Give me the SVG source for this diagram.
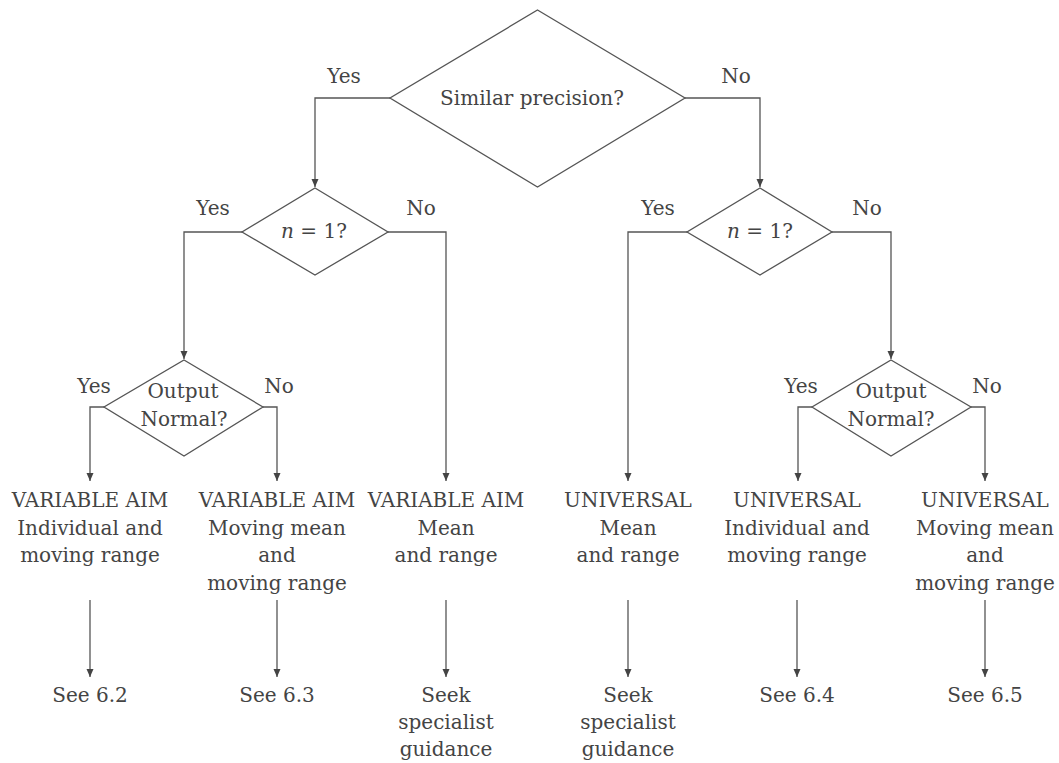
<svg xmlns="http://www.w3.org/2000/svg" width="1059" height="763" viewBox="0 0 1059 763">
<style>
.d{fill:#fff;stroke:#555;stroke-width:1.3}
.c{fill:none;stroke:#555;stroke-width:1.3}
text{font-family:"DejaVu Serif","Liberation Serif",serif;font-size:20px;fill:#444;text-anchor:middle}
</style>
<defs>
<marker id="ah" markerWidth="8" markerHeight="12" refX="8" refY="6" orient="auto" markerUnits="userSpaceOnUse">
<path d="M0,2.5 L8,6 L0,9.5 Z" fill="#444"/>
</marker>
</defs>
<rect width="1059" height="763" fill="#fff"/>
<g id="connectors">
<path class="c" d="M390,98 H315 V187" marker-end="url(#ah)"/>
<path class="c" d="M685,98 H760 V187" marker-end="url(#ah)"/>
<path class="c" d="M242,232 H184 V359" marker-end="url(#ah)"/>
<path class="c" d="M388,232 H446 V481" marker-end="url(#ah)"/>
<path class="c" d="M687,232 H628 V481" marker-end="url(#ah)"/>
<path class="c" d="M832,232 H891 V359" marker-end="url(#ah)"/>
<path class="c" d="M104,407 H90 V481" marker-end="url(#ah)"/>
<path class="c" d="M263,407 H277 V481" marker-end="url(#ah)"/>
<path class="c" d="M812,407 H798 V481" marker-end="url(#ah)"/>
<path class="c" d="M971,407 H985 V481" marker-end="url(#ah)"/>
<path class="c" d="M90,600 V677" marker-end="url(#ah)"/>
<path class="c" d="M277,600 V677" marker-end="url(#ah)"/>
<path class="c" d="M446,600 V677" marker-end="url(#ah)"/>
<path class="c" d="M628,600 V677" marker-end="url(#ah)"/>
<path class="c" d="M797,600 V677" marker-end="url(#ah)"/>
<path class="c" d="M985,600 V677" marker-end="url(#ah)"/>
<text x="344" y="83">Yes</text>
<text x="736" y="83">No</text>
<text x="213" y="215">Yes</text>
<text x="421" y="215">No</text>
<text x="658" y="215">Yes</text>
<text x="867" y="215">No</text>
<text x="94" y="393">Yes</text>
<text x="279" y="393">No</text>
<text x="801" y="393">Yes</text>
<text x="987" y="393">No</text>
</g>
<g id="similar-precision">
<polygon class="d" points="537.5,10 685,98 537.5,187 390,98"/>
<text x="532" y="105">Similar precision?</text>
</g>
<g id="n1-left">
<polygon class="d" points="315,188 388,232 315,275 242,232"/>
<text x="314" y="238"><tspan font-style="italic">n</tspan> = 1?</text>
</g>
<g id="n1-right">
<polygon class="d" points="760,188 832,232 760,275 687,232"/>
<text x="760" y="238"><tspan font-style="italic">n</tspan> = 1?</text>
</g>
<g id="normal-left">
<polygon class="d" points="184,360 263,407 184,456 104,407"/>
<text x="183" y="398">Output</text>
<text x="184" y="426">Normal?</text>
</g>
<g id="normal-right">
<polygon class="d" points="891,360 971,407 891,456 812,407"/>
<text x="891" y="398">Output</text>
<text x="891" y="426">Normal?</text>
</g>
<g id="va-individual">
<text x="90" y="507">VARIABLE AIM</text>
<text x="90" y="535">Individual and</text>
<text x="90" y="562">moving range</text>
</g>
<g id="va-moving">
<text x="277" y="507">VARIABLE AIM</text>
<text x="277" y="535">Moving mean</text>
<text x="277" y="562">and</text>
<text x="277" y="590">moving range</text>
</g>
<g id="va-mean">
<text x="446" y="507">VARIABLE AIM</text>
<text x="446" y="535">Mean</text>
<text x="446" y="562">and range</text>
</g>
<g id="u-mean">
<text x="628" y="507">UNIVERSAL</text>
<text x="628" y="535">Mean</text>
<text x="628" y="562">and range</text>
</g>
<g id="u-individual">
<text x="797" y="507">UNIVERSAL</text>
<text x="797" y="535">Individual and</text>
<text x="797" y="562">moving range</text>
</g>
<g id="u-moving">
<text x="985" y="507">UNIVERSAL</text>
<text x="985" y="535">Moving mean</text>
<text x="985" y="562">and</text>
<text x="985" y="590">moving range</text>
</g>
<g id="see-6-2"><text x="90" y="702">See 6.2</text></g>
<g id="see-6-3"><text x="277" y="702">See 6.3</text></g>
<g id="seek-1">
<text x="446" y="702">Seek</text>
<text x="446" y="729">specialist</text>
<text x="446" y="756">guidance</text>
</g>
<g id="seek-2">
<text x="628" y="702">Seek</text>
<text x="628" y="729">specialist</text>
<text x="628" y="756">guidance</text>
</g>
<g id="see-6-4"><text x="797" y="702">See 6.4</text></g>
<g id="see-6-5"><text x="985" y="702">See 6.5</text></g>
</svg>
